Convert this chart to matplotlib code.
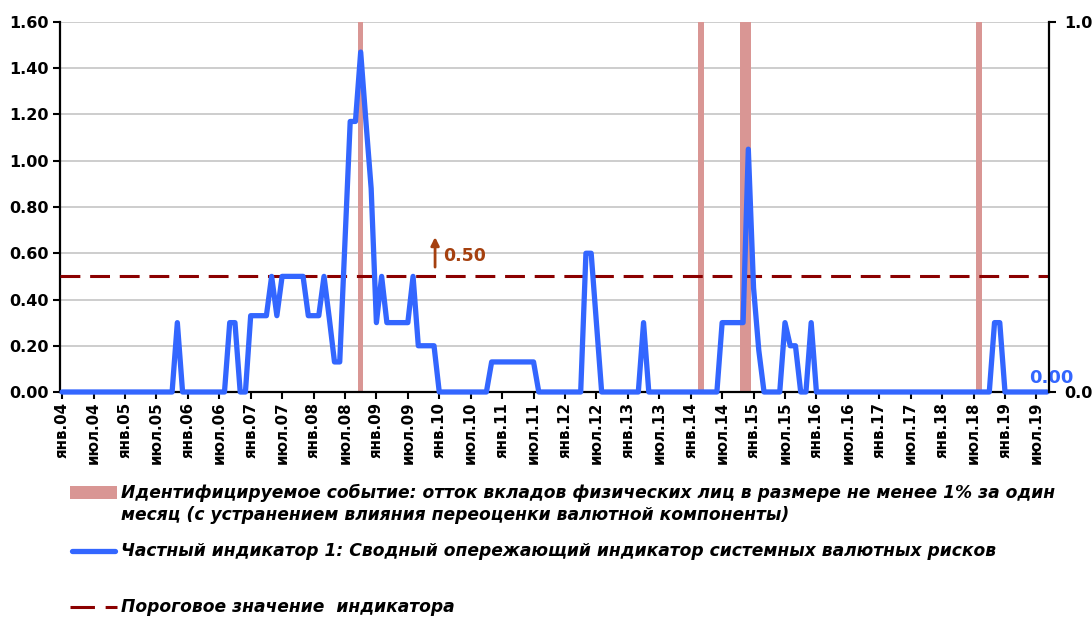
import numpy as np
import pandas as pd
import matplotlib
matplotlib.use("Agg")
import matplotlib.pyplot as plt
from matplotlib.lines import Line2D
from matplotlib.patches import Rectangle

# monthly data, Jan 2004 - Sep 2019
months = pd.date_range("2004-01-01", periods=189, freq="MS")

indicator = [
    0, 0, 0, 0, 0, 0, 0, 0, 0, 0, 0, 0,                                   # 2004
    0, 0, 0, 0, 0, 0, 0, 0, 0, 0, 0.30, 0,                                # 2005
    0, 0, 0, 0, 0, 0, 0, 0, 0.30, 0.30, 0, 0,                             # 2006
    0.33, 0.33, 0.33, 0.33, 0.50, 0.33, 0.50, 0.50, 0.50, 0.50, 0.50, 0.33,  # 2007
    0.33, 0.33, 0.50, 0.32, 0.13, 0.13, 0.65, 1.17, 1.17, 1.47, 1.17, 0.88,  # 2008
    0.30, 0.50, 0.30, 0.30, 0.30, 0.30, 0.30, 0.50, 0.20, 0.20, 0.20, 0.20,  # 2009
    0, 0, 0, 0, 0, 0, 0, 0, 0, 0, 0.13, 0.13,                             # 2010
    0.13, 0.13, 0.13, 0.13, 0.13, 0.13, 0.13, 0, 0, 0, 0, 0,              # 2011
    0, 0, 0, 0, 0.60, 0.60, 0.30, 0, 0, 0, 0, 0,                          # 2012
    0, 0, 0, 0.30, 0, 0, 0, 0, 0, 0, 0, 0,                                # 2013
    0, 0, 0, 0, 0, 0, 0.30, 0.30, 0.30, 0.30, 0.30, 1.05,                 # 2014
    0.45, 0.18, 0, 0, 0, 0, 0.30, 0.20, 0.20, 0, 0, 0.30,                 # 2015
    0, 0, 0, 0, 0, 0, 0, 0, 0, 0, 0, 0,                                   # 2016
    0, 0, 0, 0, 0, 0, 0, 0, 0, 0, 0, 0,                                   # 2017
    0, 0, 0, 0, 0, 0, 0, 0, 0, 0, 0.30, 0.30,                             # 2018
    0, 0, 0, 0, 0, 0, 0, 0, 0,                                            # 2019
]

event_months = ["2008-10", "2014-03", "2014-11", "2014-12", "2018-08"]
event_values = [1, 1, 1, 1, 1]
threshold = 0.50

month_names = {1: "янв.", 7: "июл."}
tick_pos = [i for i, m in enumerate(months) if m.month in month_names]
tick_labels = [month_names[months[i].month] + months[i].strftime("%y") for i in tick_pos]

legend_event = ["Идентифицируемое событие: отток вкладов физических лиц в размере не менее 1% за один",
                "месяц (с устранением влияния переоценки валютной компоненты)"]
legend_line = "Частный индикатор 1: Сводный опережающий индикатор системных валютных рисков"
legend_thr = "Пороговое значение  индикатора"

BLUE = "#3366FF"
PINK = "#D99694"
DARKRED = "#8B0000"
BROWN = "#A5400F"

plt.rcParams["font.family"] = ["DejaVu Sans"]

fig = plt.figure(figsize=(10.92, 6.18), dpi=100)
W, H = 1092, 618
ax = fig.add_axes([60 / W, 1 - 392 / H, (1049 - 60) / W, (392 - 22) / H])

x = np.arange(len(months))
ev_idx = months.get_indexer(pd.to_datetime(event_months))

# events: bars on the secondary 0..1 scale (= axes fraction)
ax.bar(ev_idx, event_values, width=1.05, color=PINK, linewidth=0,
       transform=ax.get_xaxis_transform(), zorder=2)

ax.axhline(threshold, color=DARKRED, lw=2.2, dashes=(6.5, 3.2), zorder=3)
ax.plot(x, indicator, color=BLUE, lw=3.8, solid_joinstyle="round",
        solid_capstyle="round", zorder=4, clip_on=False)

ax.set_xlim(-0.4, len(months) - 0.6)
ax.set_ylim(0, 1.6)
ax.set_yticks(np.arange(0, 1.61, 0.2))
ax.set_yticklabels([f"{v:.2f}" for v in np.arange(0, 1.61, 0.2)],
                   fontsize=11.5, fontweight="bold")
ax.set_xticks(tick_pos)
ax.set_xticklabels(tick_labels, rotation=90, fontsize=10.8, fontweight="bold")
ax.grid(axis="y", color="#C0C0C0", lw=1.1)
ax.set_axisbelow(True)
ax.tick_params(axis="y", direction="out", length=5, width=1.5, pad=3)
ax.tick_params(axis="x", direction="out", length=5, width=1.5, pad=2)
for s in ["top", "right"]:
    ax.spines[s].set_visible(False)
for s in ["left", "bottom"]:
    ax.spines[s].set_linewidth(1.6)

# last value label and threshold note
ax.annotate(f"{indicator[-1]:.2f}", xy=(x[-1], indicator[-1]), xytext=(3, 10),
            textcoords="offset points", ha="center", va="center",
            color=BLUE, fontsize=13, fontweight="bold", zorder=5,
            annotation_clip=False)
ax.annotate("", xy=(71.2, 0.67), xytext=(71.2, 0.54),
            arrowprops=dict(arrowstyle="-|>", color=BROWN, lw=2,
                            mutation_scale=12, shrinkA=0, shrinkB=0))
ax.text(72.8, 0.59, f"{threshold:.2f}", color=BROWN, fontsize=12.5,
        fontweight="bold", ha="left", va="center")

# secondary axis for events
ax2 = ax.twinx()
ax2.set_ylim(0, 1)
ax2.set_yticks([0, 1])
ax2.set_yticklabels(["0.0", "1.0"], fontsize=11.5, fontweight="bold")
ax2.tick_params(axis="y", direction="out", length=5, width=1.5, pad=6)
for s in ["top", "left", "bottom"]:
    ax2.spines[s].set_visible(False)
ax2.spines["right"].set_linewidth(1.6)

# legend drawn below the axes
def fy(py):
    return 1 - py / H

fig.add_artist(Rectangle((70 / W, fy(499)), 47 / W, 13 / H, transform=fig.transFigure,
                         color=PINK, lw=0))
fig.add_artist(Line2D([72 / W, 115 / W], [fy(551), fy(551)], transform=fig.transFigure,
                      color=BLUE, lw=3.8, solid_capstyle="round"))
fig.add_artist(Line2D([70 / W, 117 / W], [fy(607), fy(607)], transform=fig.transFigure,
                      color=DARKRED, lw=2.2, dashes=(8, 3.5)))
legend_style = dict(fontsize=12.3, fontweight="bold", fontstyle="italic",
                    va="center", ha="left")
fig.text(121 / W, fy(493), legend_event[0], **legend_style)
fig.text(121 / W, fy(515), legend_event[1], **legend_style)
fig.text(121 / W, fy(551), legend_line, **legend_style)
fig.text(121 / W, fy(607), legend_thr, **legend_style)

fig.savefig("out.png", dpi=100)
